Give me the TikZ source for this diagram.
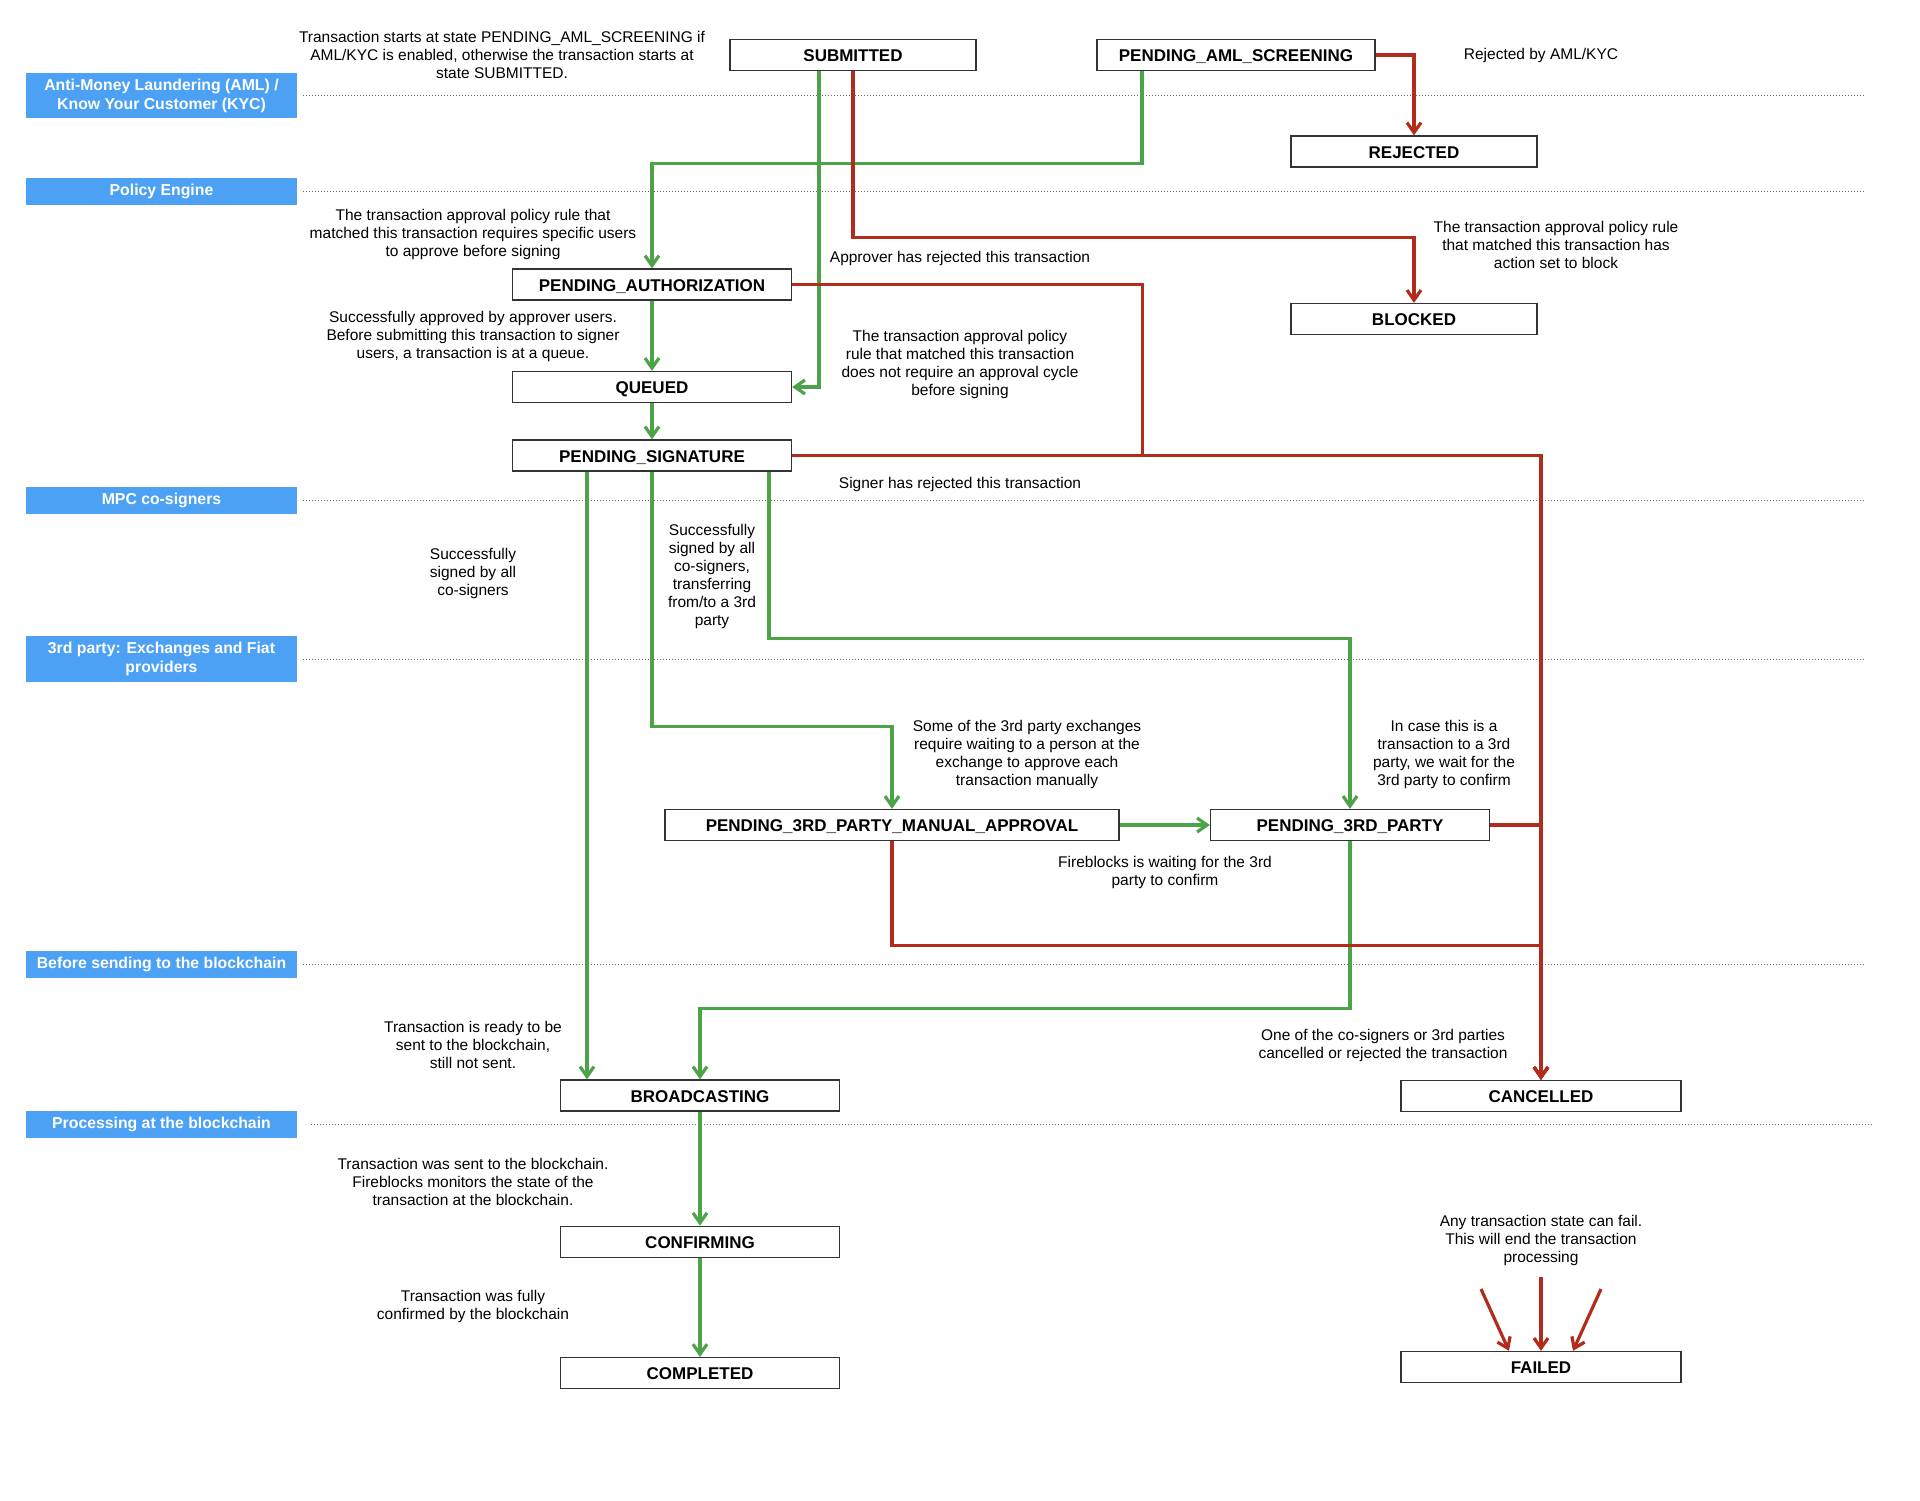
\documentclass[tikz,border=0pt]{standalone}
\usepackage{fontspec}
\setmainfont{Liberation Sans}
\usetikzlibrary{positioning,arrows.meta,calc}

\definecolor{okgreen}{RGB}{77,163,72}
\definecolor{failred}{RGB}{178,44,28}
\definecolor{laneblue}{RGB}{76,161,245}

\begin{document}
\begin{tikzpicture} [
					x=1pt,y=-1pt,
					state/.style={draw=black!80,line width=1.3pt,fill=white,minimum width=279pt,minimum height=31pt,inner sep=0,text height=13pt,text depth=0pt,font=\fontsize{17}{20}\selectfont\bfseries},
					lane/.style={fill=laneblue,text=white,minimum width=271pt,minimum height=27pt,inner sep=0,align=center,font=\fontsize{15.8}{19}\selectfont\bfseries},
					note/.style={align=center,inner sep=0,font=\fontsize{15.5}{18}\selectfont},
					sep/.style={draw=black!60,line width=1pt,dotted},
					ok/.style={draw=okgreen,line width=3.2pt,-{Straight Barb[length=10pt,width=14pt]}},
					fail/.style={draw=failred,line width=3.2pt,-{Straight Barb[length=10pt,width=14pt]}},
		%			scale=0.8,
				]
				\useasboundingbox (0,0) rectangle (1920,1500);
				
				% lanes
				\node[lane,minimum height=45pt] (laneAml) at (161.5,95.5) {Anti-Money Laundering (AML) /\\Know Your Customer (KYC)};
				\node[lane] (lanePolicy) at (161.5,191) {Policy Engine};
				\node[lane] (laneMpc) at (161.5,500.5) {MPC co-signers};
				\node[lane,minimum height=46pt] (laneThird) at (161.5,659) {3rd party: Exchanges and Fiat\\providers};
				\node[lane] (laneChain) at (161.5,964.5) {Before sending to the blockchain};
				\node[lane] (laneProc) at (161.5,1124.5) {Processing at the blockchain};
				
				\draw[sep] ([xshift=6pt]laneAml.east) -- +(1562,0);
				\draw[sep] ([xshift=6pt]lanePolicy.east) -- +(1562,0);
				\draw[sep] ([xshift=6pt]laneMpc.east) -- +(1562,0);
				\draw[sep] ([xshift=6pt]laneThird.east) -- +(1562,0);
				\draw[sep] ([xshift=6pt]laneChain.east) -- +(1562,0);
				\draw[sep] ([xshift=14pt]laneProc.east) -- +(1562,0);
				
				% states
				\node[state,minimum width=246pt] (sub) at (853,55) {SUBMITTED};
				\node[state,minimum width=278pt] (aml) at (1236,55) {PENDING\_AML\_SCREENING};
				\node[state,minimum width=246pt] (rej) at (1414,151.5) {REJECTED};
				\node[state,minimum width=246pt] (blk) at (1414,319) {BLOCKED};
				\node[state] (auth) at (652,284.5) {PENDING\_AUTHORIZATION};
				\node[state] (queued) at (652,387) {QUEUED};
				\node[state] (sig) at (652,455.5) {PENDING\_SIGNATURE};
				\node[state,minimum width=454pt] (manual) at (892,825) {PENDING\_3RD\_PARTY\_MANUAL\_APPROVAL};
				\node[state] (third) at (1350,825) {PENDING\_3RD\_PARTY};
				\node[state] (bcast) at (700,1095.5) {BROADCASTING};
				\node[state] (confirming) [below=114pt of bcast] {CONFIRMING};
				\node[state] (completed) [below=99pt of confirming] {COMPLETED};
				\node[state,minimum width=280pt] (cancelled) at (1541,1096) {CANCELLED};
				\node[state,minimum width=280pt] (failed) at (1541,1367) {FAILED};
				
				% notes
				\node[note] (noteStart) at (502,55) {Transaction starts at state PENDING\_AML\_SCREENING if\\AML/KYC is enabled, otherwise the transaction starts at\\state SUBMITTED.};
				\node[note] (noteRejected) at (1541,55) {Rejected by AML/KYC};
				\node[note] (notePolicy) at (473,234) {The transaction approval policy rule that\\matched this transaction requires specific users\\to approve before signing};
				\node[note] (noteApprover) at (960,258) {Approver has rejected this transaction};
				\node[note] (noteBlock) at (1556,245) {The transaction approval policy rule\\that matched this transaction has\\action set to block};
				\node[note] (noteApproved) at (473,336) {Successfully approved by approver users.\\Before submitting this transaction to signer\\users, a transaction is at a queue.};
				\node[note] (noteNoApproval) at (960,364) {The transaction approval policy\\rule that matched this transaction\\does not require an approval cycle\\before signing};
				\node[note] (noteSigner) at (960,484) {Signer has rejected this transaction};
				\node[note] (noteSigned) at (473,573) {Successfully\\signed by all\\co-signers};
				\node[note] (noteSigned3rd) at (712,576) {Successfully\\signed by all\\co-signers,\\transferring\\from/to a 3rd\\party};
				\node[note] (noteManual) at (1027,754) {Some of the 3rd party exchanges\\require waiting to a person at the\\exchange to approve each\\transaction manually};
				\node[note] (noteThird) at (1444,754) {In case this is a\\transaction to a 3rd\\party, we wait for the\\3rd party to confirm};
				\node[note] (noteFireblocks) at (1165,872) {Fireblocks is waiting for the 3rd\\party to confirm};
				\node[note] (noteReady) at (473,1045) {Transaction is ready to be\\sent to the blockchain,\\still not sent.};
				\node[note] (noteCancelled) at (1383,1045) {One of the co-signers or 3rd parties\\cancelled or rejected the transaction};
				\node[note] (noteSent) at (473,1182) {Transaction was sent to the blockchain.\\Fireblocks monitors the state of the\\transaction at the blockchain.};
				\node[note] (noteConfirmed) at (473,1306) {Transaction was fully\\confirmed by the blockchain};
				\node[note] (noteFail) at (1541,1240) {Any transaction state can fail.\\This will end the transaction\\processing};
				
				% happy path
				\draw[ok] ([xshift=-34pt]sub.south) |- (queued.east);
				\draw[ok] ([xshift=-94pt]aml.south) -- ++(0,92) -| (auth.north);
				\draw[ok] (auth) to (queued);
				\draw[ok] (queued) to (sig);
				\draw[ok] ([xshift=-65pt]sig.south) to ([xshift=-113pt]bcast.north);
				\draw[ok] (sig.south) -- ++(0,255) -| (manual.north);
				\draw[ok] ([xshift=117pt]sig.south) -- ++(0,167) -| (third.north);
				\draw[ok] (manual) to (third);
				\draw[ok] (third.south) -- ++(0,167) -| (bcast.north);
				\draw[ok] (bcast) to (confirming);
				\draw[ok] (confirming) to (completed);
				
				% rejections
				\draw[fail] (aml.east) -| (rej.north);
				\draw[fail] (sub.south) -- ++(0,166) -| (blk.north);
				\draw[fail] (auth.east) -- ++(350,0) -- ++(0,171) -| (cancelled.north);
				\draw[fail] (sig.east) -| (cancelled.north);
				\draw[fail] (manual.south) -- ++(0,104) -| (cancelled.north);
				\draw[fail] (third.east) -| (cancelled.north);
				
				% failures
				\coordinate (failA) at (1481,1289);
				\coordinate (failB) at (1541,1277);
				\coordinate (failC) at (1601,1289);
				\draw[fail] (failA) to ([xshift=-32pt]failed.north);
				\draw[fail] (failB) to (failed.north);
				\draw[fail] (failC) to ([xshift=32pt]failed.north);
				
			\end{tikzpicture}
\end{document}
